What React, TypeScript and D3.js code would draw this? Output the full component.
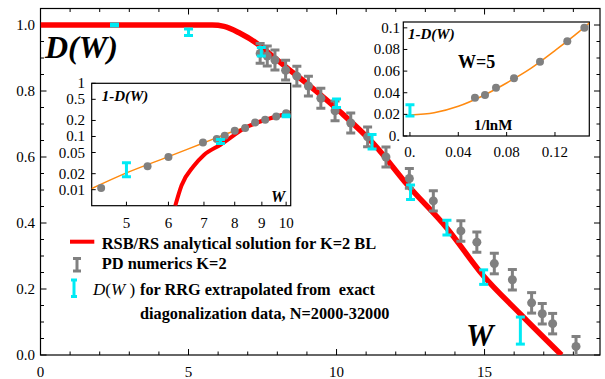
import React from 'react';
import * as d3 from 'd3';

// main panel: D(W)
const redW = [0, 5.8, 6.2, 6.74, 7.3, 7.86, 8.4, 8.99, 10.12, 11.24, 12.4, 13.73, 14.96, 16.2, 17.6];
const redD = [1, 1, 0.996, 0.975, 0.945, 0.904, 0.865, 0.823, 0.737, 0.641, 0.515, 0.384, 0.24, 0.125, 0];

const pdW = [7.42, 7.66, 7.92, 8.28, 8.66, 9.05, 9.47, 9.95, 10.48, 11.05, 11.67, 12.46, 13.27, 14.2, 14.74, 15.33, 15.94, 16.59, 16.95, 17.3, 18.09];
const pdD = [0.914, 0.906, 0.894, 0.863, 0.845, 0.815, 0.778, 0.74, 0.703, 0.661, 0.6, 0.535, 0.467, 0.376, 0.342, 0.277, 0.228, 0.158, 0.125, 0.095, 0.026];
const pdErr = [0.03, 0.03, 0.03, 0.03, 0.03, 0.03, 0.03, 0.03, 0.03, 0.03, 0.03, 0.03, 0.031, 0.031, 0.031, 0.031, 0.031, 0.031, 0.031, 0.031, 0.03];

const rrgW = [2.5, 5.0, 7.46, 10.0, 11.2, 12.5, 13.73, 14.97, 16.21];
const rrgD = [1.0, 0.978, 0.919, 0.763, 0.646, 0.493, 0.386, 0.236, 0.074];
const rrgErr = [0.003, 0.01, 0.013, 0.013, 0.022, 0.022, 0.022, 0.022, 0.041];

const mainXTicks = [0, 5, 10, 15];
const mainYTicks = [0, 0.2, 0.4, 0.6, 0.8, 1.0];

// inset 1: 1-D(W), log-log
const in1GreyW = [4.48, 5.48, 6.0, 6.97, 7.4, 7.66, 8.0, 8.37, 8.74, 9.13, 9.58, 10.0];
const in1GreyY = [0.0108, 0.0275, 0.041, 0.077, 0.0895, 0.103, 0.128, 0.144, 0.183, 0.206, 0.237, 0.274];
const in1CyanW = [5, 7.52, 10];
const in1CyanY = [0.024, 0.081, 0.244];
const in1CyanLo = [0.0175, 0.074, 0.235];
const in1CyanHi = [0.032, 0.088, 0.254];
const in1OrangeW = [4.29, 5, 6, 7, 8, 9, 10.18];
const in1OrangeY = [0.0104, 0.0207, 0.0418, 0.0763, 0.128, 0.19, 0.3];
const in1RedW = [6.18, 6.35, 6.69, 7.0, 7.52, 8.46, 9.2, 10.18];
const in1RedY = [0.005, 0.012, 0.0275, 0.045, 0.07, 0.154, 0.21, 0.28];
const in1XTicks = [5, 6, 7, 8, 9, 10];
const in1YTicks = [1, 0.5, 0.2, 0.1, 0.05, 0.02, 0.01];

// inset 2: 1-D(W) vs 1/lnM at W=5
const in2GreyX = [0.0538, 0.0621, 0.0712, 0.0861, 0.1076, 0.1302, 0.1443];
const in2GreyY = [0.0354, 0.0378, 0.0447, 0.0533, 0.0687, 0.0877, 0.1];
const in2OrangeX = [0, 0.02, 0.04, 0.06, 0.08, 0.1, 0.12, 0.14, 0.1484];
const in2OrangeY = [0.0195, 0.0215, 0.0275, 0.037, 0.049, 0.0625, 0.079, 0.0965, 0.1045];
const in2CyanX = [0];
const in2CyanY = [0.0237];
const in2CyanErr = [0.0053];
const in2XTicks = [0, 0.04, 0.08, 0.12];
const in2XLabels = ['0.', '0.04', '0.08', '0.12'];
const in2YTicks = [0, 0.02, 0.04, 0.06, 0.08, 0.1];
const in2YLabels = ['0.', '0.02', '0.04', '0.06', '0.08', '0.1'];

const RED = '#ff0000';
const GREY = '#808080';
const CYAN = '#00eaf4';
const ORANGE = '#ff8a10';
const FONT = '"Liberation Serif", "Times New Roman", serif';

const ErrBar = ({ cx, y0, y1, color, cap = 9, sw = 3 }: any) => (
  <g stroke={color} strokeWidth={sw}>
    <line x1={cx} x2={cx} y1={y0} y2={y1} />
    <line x1={cx - cap / 2} x2={cx + cap / 2} y1={y0} y2={y0} />
    <line x1={cx - cap / 2} x2={cx + cap / 2} y1={y1} y2={y1} />
  </g>
);

export default function App() {
  const width = 605, height = 379;
  const x = d3.scaleLinear().domain([0, 18.9]).range([40.5, 600]);
  const y = d3.scaleLinear().domain([0, 1.05]).range([355, 8.5]);

  const redLine = d3.line<number>().x((_, i) => x(redW[i])).y((_, i) => y(redD[i])).curve(d3.curveMonotoneX);

  const x1 = d3.scaleLog().domain([4.3, 10.2]).range([91.7, 290.7]);
  const y1 = d3.scaleLog().domain([0.005, 1]).range([205.7, 83.3]);
  const in1Orange = d3.line<number>().x((_, i) => x1(in1OrangeW[i])).y((_, i) => y1(in1OrangeY[i])).curve(d3.curveMonotoneX);
  const in1Red = d3.line<number>().x((_, i) => x1(in1RedW[i])).y((_, i) => y1(in1RedY[i])).curve(d3.curveMonotoneX);

  const x2 = d3.scaleLinear().domain([-0.0055, 0.1484]).range([403.3, 589.3]);
  const y2 = d3.scaleLinear().domain([0, 0.1054]).range([136, 22]);
  const in2Orange = d3.line<number>().x((_, i) => x2(in2OrangeX[i])).y((_, i) => y2(in2OrangeY[i])).curve(d3.curveMonotoneX);

  const [xl, xr] = x.range();
  const [yb, yt] = y.range();
  const minorX = d3.range(0, 19, 1);
  const minorY = d3.range(0, 1.0001, 0.05);

  return (
    <svg width={width} height={height} style={{ position: 'absolute', left: 0, top: 0, background: '#fff' }} fontFamily={FONT}>
      <defs>
        <clipPath id="c1"><rect x={x1.range()[0]} y={83.3} width={x1.range()[1] - x1.range()[0]} height={205.7 - 83.3} /></clipPath>
        <clipPath id="c2"><rect x={403.3} y={22} width={186} height={114} /></clipPath>
        <clipPath id="c0"><rect x={xl} y={yt} width={xr - xl} height={yb - yt} /></clipPath>
      </defs>

      {/* main frame and ticks */}
      <rect x={xl} y={yt} width={xr - xl} height={yb - yt} fill="none" stroke="#000" strokeWidth={1.2} />
      {minorX.map(v => {
        const len = v % 5 === 0 ? 6 : 3.5;
        return (
          <g key={'mx' + v} stroke="#000" strokeWidth={1}>
            <line x1={x(v)} x2={x(v)} y1={yb} y2={yb - len} />
            <line x1={x(v)} x2={x(v)} y1={yt} y2={yt + len} />
          </g>
        );
      })}
      {minorY.map((v, i) => {
        const len = i % 4 === 0 ? 6 : 3.5;
        return (
          <g key={'my' + i} stroke="#000" strokeWidth={1}>
            <line x1={xl} x2={xl + len} y1={y(v)} y2={y(v)} />
            <line x1={xr} x2={xr - len} y1={y(v)} y2={y(v)} />
          </g>
        );
      })}
      {mainXTicks.map(v => (
        <text key={'xt' + v} x={x(v)} y={376.5} textAnchor="middle" fontSize={15}>{v}</text>
      ))}
      {mainYTicks.map(v => (
        <text key={'yt' + v} x={35} y={y(v) + 5} textAnchor="end" fontSize={15}>{v.toFixed(1)}</text>
      ))}

      {/* main data */}
      <g clipPath="url(#c0)">
        <path d={redLine(redW) || ''} fill="none" stroke={RED} strokeWidth={5.5} />
        {pdW.map((w, i) => (
          <g key={'pd' + i}>
            <ErrBar cx={x(w)} y0={y(pdD[i] + pdErr[i])} y1={y(pdD[i] - pdErr[i])} color={GREY} />
            <circle cx={x(w)} cy={y(pdD[i])} r={4.5} fill={GREY} />
          </g>
        ))}
        {rrgW.map((w, i) => (
          <ErrBar key={'rr' + i} cx={x(w)} y0={y(rrgD[i] + rrgErr[i])} y1={y(rrgD[i] - rrgErr[i])} color={CYAN} />
        ))}
      </g>

      <text x={45} y={58} fontSize={32} fontWeight="bold" fontStyle="italic">D(W)</text>
      <text x={466} y={346} fontSize={31} fontWeight="bold" fontStyle="italic">W</text>

      {/* inset 1 */}
      <rect x={91.7} y={83.3} width={199} height={122.4} fill="#fff" stroke="#000" strokeWidth={1.2} />
      <g clipPath="url(#c1)">
        <path d={in1Orange(in1OrangeW) || ''} fill="none" stroke={ORANGE} strokeWidth={1.5} />
        <path d={in1Red(in1RedW) || ''} fill="none" stroke={RED} strokeWidth={4} />
        {in1GreyW.map((w, i) => (
          <circle key={'g1' + i} cx={x1(w)} cy={y1(in1GreyY[i])} r={4} fill={GREY} />
        ))}
        {in1CyanW.map((w, i) => (
          <ErrBar key={'c1' + i} cx={x1(w)} y0={y1(in1CyanHi[i])} y1={y1(in1CyanLo[i])} color={CYAN} />
        ))}
      </g>
      {in1XTicks.map(v => (
        <g key={'ix' + v}>
          <line x1={x1(v)} x2={x1(v)} y1={205.7} y2={201.7} stroke="#000" />
          <text x={x1(v)} y={228} textAnchor="middle" fontSize={15}>{v}</text>
        </g>
      ))}
      {in1YTicks.map(v => (
        <g key={'iy' + v}>
          <line x1={91.7} x2={95.7} y1={y1(v)} y2={y1(v)} stroke="#000" />
          <text x={85} y={y1(v) + 5} textAnchor="end" fontSize={15}>{v}</text>
        </g>
      ))}
      <text x={101.7} y={101} fontSize={15} fontWeight="bold" fontStyle="italic">1-D(W)</text>
      <text x={271} y={202} fontSize={16} fontWeight="bold" fontStyle="italic">W</text>

      {/* inset 2 */}
      <rect x={403.3} y={22} width={186} height={114} fill="#fff" stroke="#000" strokeWidth={1.2} />
      <g clipPath="url(#c2)">
        <path d={in2Orange(in2OrangeX) || ''} fill="none" stroke={ORANGE} strokeWidth={1.5} />
        {in2GreyX.map((v, i) => (
          <circle key={'g2' + i} cx={x2(v)} cy={y2(in2GreyY[i])} r={4} fill={GREY} />
        ))}
        {in2CyanX.map((v, i) => (
          <ErrBar key={'c2' + i} cx={x2(v)} y0={y2(in2CyanY[i] + in2CyanErr[i])} y1={y2(in2CyanY[i] - in2CyanErr[i])} color={CYAN} />
        ))}
      </g>
      {in2XTicks.map((v, i) => (
        <g key={'jx' + v}>
          <line x1={x2(v)} x2={x2(v)} y1={136} y2={132} stroke="#000" />
          <text x={x2(v)} y={157} textAnchor="middle" fontSize={15}>{in2XLabels[i]}</text>
        </g>
      ))}
      {in2YTicks.map((v, i) => (
        <g key={'jy' + v}>
          <line x1={403.3} x2={407.3} y1={y2(v)} y2={y2(v)} stroke="#000" />
          <text x={400} y={y2(v) + 5} textAnchor="end" fontSize={15}>{in2YLabels[i]}</text>
        </g>
      ))}
      <text x={408} y={39} fontSize={15} fontWeight="bold" fontStyle="italic">1-D(W)</text>
      <text x={458} y={68} fontSize={18} fontWeight="bold">W=5</text>
      <text x={474} y={130} fontSize={15} fontWeight="bold">1/lnM</text>

      {/* legend */}
      <line x1={70} x2={94.3} y1={241.7} y2={241.7} stroke={RED} strokeWidth={4} />
      <text x={101.7} y={249} fontSize={16.4} fontWeight="bold">RSB/RS analytical solution for K=2 BL</text>
      <ErrBar cx={77} y0={258.5} y1={271} color={GREY} cap={8} />
      <text x={101.7} y={269} fontSize={16.4} fontWeight="bold">PD numerics K=2</text>
      <ErrBar cx={74} y0={280} y1={296.5} color={CYAN} cap={6} />
      <text x={93} y={295} fontSize={17} style={{ whiteSpace: 'pre' }}>
        <tspan fontStyle="italic">D</tspan>(<tspan fontStyle="italic">W</tspan> )
      </text>
      <text x={140} y={295} fontSize={16.3} fontWeight="bold" style={{ whiteSpace: 'pre' }}>for RRG extrapolated from  exact</text>
      <text x={140} y={319} fontSize={16.3} fontWeight="bold">diagonalization data, N=2000-32000</text>
    </svg>
  );
}
